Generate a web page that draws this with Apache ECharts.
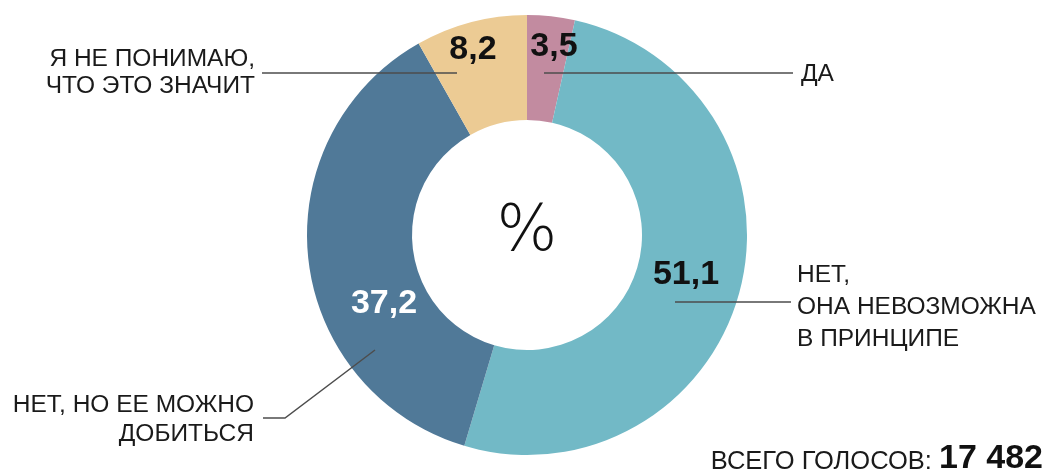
<!DOCTYPE html>
<html>
<head>
<meta charset="utf-8">
<script src="https://cdn.jsdelivr.net/npm/echarts@6/dist/echarts.min.js"></script>
<style>
  html, body { margin: 0; padding: 0; background: #ffffff; }
  #chart { width: 1052px; height: 476px; }
</style>
</head>
<body>
<div id="chart"></div>
<script>
// ---- data ----
const categories = [
  'ДА',
  'НЕТ,\nОНА НЕВОЗМОЖНА\nВ ПРИНЦИПЕ',
  'НЕТ, НО ЕЕ МОЖНО\nДОБИТЬСЯ',
  'Я НЕ ПОНИМАЮ,\nЧТО ЭТО ЗНАЧИТ'
];
const values = [3.5, 51.1, 37.2, 8.2];
const totalVotes = 17482;
const centerSymbol = '%';
const totalLabel = 'ВСЕГО ГОЛОСОВ: ';

// ---- styling / layout (not data) ----
const colors = ['#C28BA0', '#72B9C6', '#507998', '#ECCB94'];
const valueLabelColors = ['#111111', '#111111', '#ffffff', '#111111'];
const pieCenter = [527, 235];
const pieRadius = [115, 220];
const valueLabelPos = [[554, 47], [686, 275], [384, 304], [473, 50]];
const nameLayout = [
  { x: 801, y: 74, align: 'left', lh: 27, line: [[544, 73], [700, 73], [793, 73]] },
  { x: 797, y: 307, align: 'left', lh: 32, line: [[675, 302], [740, 302], [791, 302]] },
  { x: 254, y: 420, align: 'right', lh: 29, line: [[375, 350], [285, 418], [263, 418]] },
  { x: 255, y: 73, align: 'right', lh: 27, line: [[457, 73], [350, 73], [262, 73]] }
];
const FONT = '"Liberation Sans", Arial, Helvetica, sans-serif';

function fmtValue(v) { return String(v.toFixed(1)).replace('.', ','); }
function fmtTotal(v) { return String(v).replace(/\B(?=(\d{3})+(?!\d))/g, ' '); }

const valueData = categories.map((c, i) => ({
  name: c,
  value: values[i],
  itemStyle: { color: colors[i] },
  label: { color: valueLabelColors[i] }
}));
const nameData = categories.map((c, i) => ({
  name: c,
  value: values[i],
  label: { lineHeight: nameLayout[i].lh }
}));

const chart = echarts.init(document.getElementById('chart'), null, { renderer: 'canvas' });
chart.setOption({
  animation: false,
  backgroundColor: '#ffffff',
  title: {
    right: 9,
    bottom: 0,
    padding: 0,
    text: '{a|' + totalLabel + '}{b|' + fmtTotal(totalVotes) + '}',
    textStyle: {
      fontWeight: 'normal',
      rich: {
        a: { fontFamily: FONT, fontSize: 25.5, fontWeight: 'normal', color: '#1a1a1a', verticalAlign: 'bottom', padding: [0, 0, 1, 0] },
        b: { fontFamily: FONT, fontSize: 34, fontWeight: 'bold', color: '#111111', verticalAlign: 'bottom' }
      }
    }
  },
  graphic: [{
    type: 'text',
    x: pieCenter[0],
    y: pieCenter[1] - 2,
    z: 10,
    style: {
      text: centerSymbol,
      fontFamily: '"DejaVu Sans", "Liberation Sans", sans-serif',
      fontWeight: 200,
      fontSize: 64,
      fill: '#111111',
      align: 'center',
      verticalAlign: 'middle'
    }
  }],
  series: [
    {
      type: 'pie',
      center: pieCenter,
      radius: pieRadius,
      startAngle: 90,
      clockwise: true,
      silent: true,
      avoidLabelOverlap: false,
      itemStyle: { borderWidth: 0 },
      label: {
        show: true,
        position: 'inside',
        fontFamily: FONT,
        fontSize: 34,
        fontWeight: 'bold',
        formatter: p => fmtValue(p.value)
      },
      labelLine: { show: false },
      labelLayout: p => ({
        x: valueLabelPos[p.dataIndex][0],
        y: valueLabelPos[p.dataIndex][1],
        align: 'center',
        verticalAlign: 'middle'
      }),
      data: valueData
    },
    {
      type: 'pie',
      center: pieCenter,
      radius: pieRadius,
      startAngle: 90,
      clockwise: true,
      silent: true,
      z: 3,
      avoidLabelOverlap: false,
      itemStyle: { color: 'rgba(0,0,0,0)' },
      label: {
        show: true,
        position: 'outside',
        fontFamily: FONT,
        fontSize: 24.5,
        color: '#1a1a1a',
        formatter: p => p.name
      },
      labelLine: {
        show: true,
        length: 10,
        length2: 10,
        lineStyle: { color: '#4d4d4d', width: 1.5 }
      },
      labelLayout: p => {
        const L = nameLayout[p.dataIndex];
        return {
          x: L.x,
          y: L.y,
          align: L.align,
          verticalAlign: 'middle',
          labelLinePoints: L.line
        };
      },
      data: nameData
    }
  ]
});
</script>
</body>
</html>
